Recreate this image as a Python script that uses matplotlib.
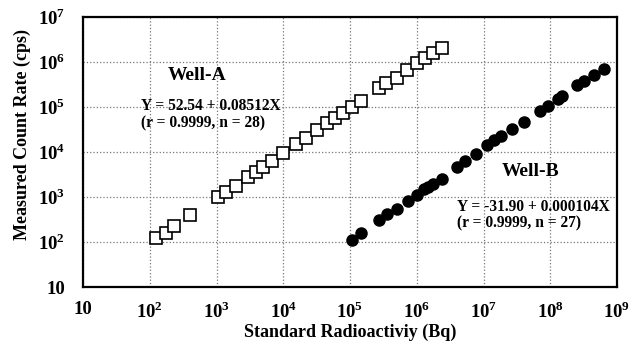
import numpy as np
import matplotlib
matplotlib.use('Agg')
import matplotlib.pyplot as plt
from matplotlib.ticker import FixedLocator, FixedFormatter, NullLocator

plt.rcParams['font.family'] = 'Liberation Serif'
plt.rcParams['font.weight'] = 'bold'
plt.rcParams['mathtext.fontset'] = 'custom'
plt.rcParams['mathtext.rm'] = 'Liberation Serif:bold'
plt.rcParams['mathtext.bf'] = 'Liberation Serif:bold'

# Well-A : standard radioactivity (Bq) vs measured count rate (cps)
well_a_x = [126, 178, 234, 407, 1070, 1380, 1950, 2950, 3890, 4900, 6760, 10000,
            15500, 21900, 31600, 45700, 60300, 79400, 107000, 148000, 269000,
            347000, 513000, 724000, 1.0e6, 1.35e6, 1.78e6, 2.40e6]
well_a_y = [123, 162, 224, 389, 1000, 1290, 1780, 2750, 3630, 4570, 6460, 9550,
            14800, 20900, 30200, 43700, 56200, 74100, 102000, 135000, 269000,
            347000, 447000, 676000, 955000, 1.23e6, 1.58e6, 2.09e6]

# Well-B
well_b_x = [1.07e5, 1.48e5, 2.69e5, 3.63e5, 5.01e5, 7.41e5, 1.0e6, 1.29e6, 1.48e6,
            1.74e6, 2.40e6, 3.98e6, 5.37e6, 7.59e6, 1.12e7, 1.45e7, 1.86e7,
            2.63e7, 3.98e7, 7.08e7, 9.33e7, 1.32e8, 1.51e8, 2.51e8, 3.24e8,
            4.57e8, 6.46e8]
well_b_y = [110, 155, 316, 427, 550, 832, 1120, 1480, 1700, 1950, 2510, 4570,
            6170, 8910, 14100, 18200, 22900, 32400, 46800, 81300, 105000,
            151000, 174000, 302000, 372000, 525000, 708000]

x_ticks = [10, 1e2, 1e3, 1e4, 1e5, 1e6, 1e7, 1e8, 1e9]
x_labels = ['10', r'$10^{2}$', r'$10^{3}$', r'$10^{4}$', r'$10^{5}$',
            r'$10^{6}$', r'$10^{7}$', r'$10^{8}$', r'$10^{9}$']
y_ticks = [10, 1e2, 1e3, 1e4, 1e5, 1e6, 1e7]
y_labels = ['10', r'$10^{2}$', r'$10^{3}$', r'$10^{4}$', r'$10^{5}$',
            r'$10^{6}$', r'$10^{7}$']

W, H = 629, 342
fig = plt.figure(figsize=(W / 100, H / 100), dpi=100)
ax = fig.add_axes([83 / W, 1 - 287 / H, (617 - 83) / W, (287 - 17) / H])

ax.set_xscale('log')
ax.set_yscale('log')
ax.set_xlim(10, 1e9)
ax.set_ylim(10, 1e7)

ax.plot(well_a_x, well_a_y, ls='none', marker='s', ms=8, mfc='white',
        mec='black', mew=1.2, zorder=3)
ax.plot(well_b_x, well_b_y, ls='none', marker='o', ms=8, mfc='black',
        mec='black', zorder=3)

ax.xaxis.set_major_locator(FixedLocator(x_ticks))
ax.xaxis.set_major_formatter(FixedFormatter(x_labels))
ax.yaxis.set_major_locator(FixedLocator(y_ticks))
ax.yaxis.set_major_formatter(FixedFormatter(y_labels))
ax.xaxis.set_minor_locator(NullLocator())
ax.yaxis.set_minor_locator(NullLocator())
ax.tick_params(length=0, labelsize=13.5)
ax.tick_params(axis='x', pad=10)
ax.tick_params(axis='y', pad=13)

ax.grid(True, ls=':', color='#777777', lw=0.9)
for s in ax.spines.values():
    s.set_linewidth(1.6)

def px(x, y):
    return x / W, 1 - y / H

fig.text(*px(197, 76), 'Well-A', ha='center', va='center', fontsize=14)
fig.text(*px(141, 106), 'Y = 52.54 + 0.08512X', ha='left', va='center', fontsize=11.2)
fig.text(*px(141, 123), '(r = 0.9999, n = 28)', ha='left', va='center', fontsize=11.2)
fig.text(*px(531, 172), 'Well-B', ha='center', va='center', fontsize=14)
fig.text(*px(457, 207), 'Y = -31.90 + 0.000104X', ha='left', va='center', fontsize=11.2)
fig.text(*px(457, 223), '(r = 0.9999, n = 27)', ha='left', va='center', fontsize=11.2)

fig.text(*px(350, 332), 'Standard Radioactiviy (Bq)', ha='center', va='center', fontsize=13)
fig.text(*px(22, 135), 'Measured Count Rate (cps)', ha='center', va='center',
         rotation=90, fontsize=13)

fig.savefig('out.png', dpi=100, facecolor='white')
